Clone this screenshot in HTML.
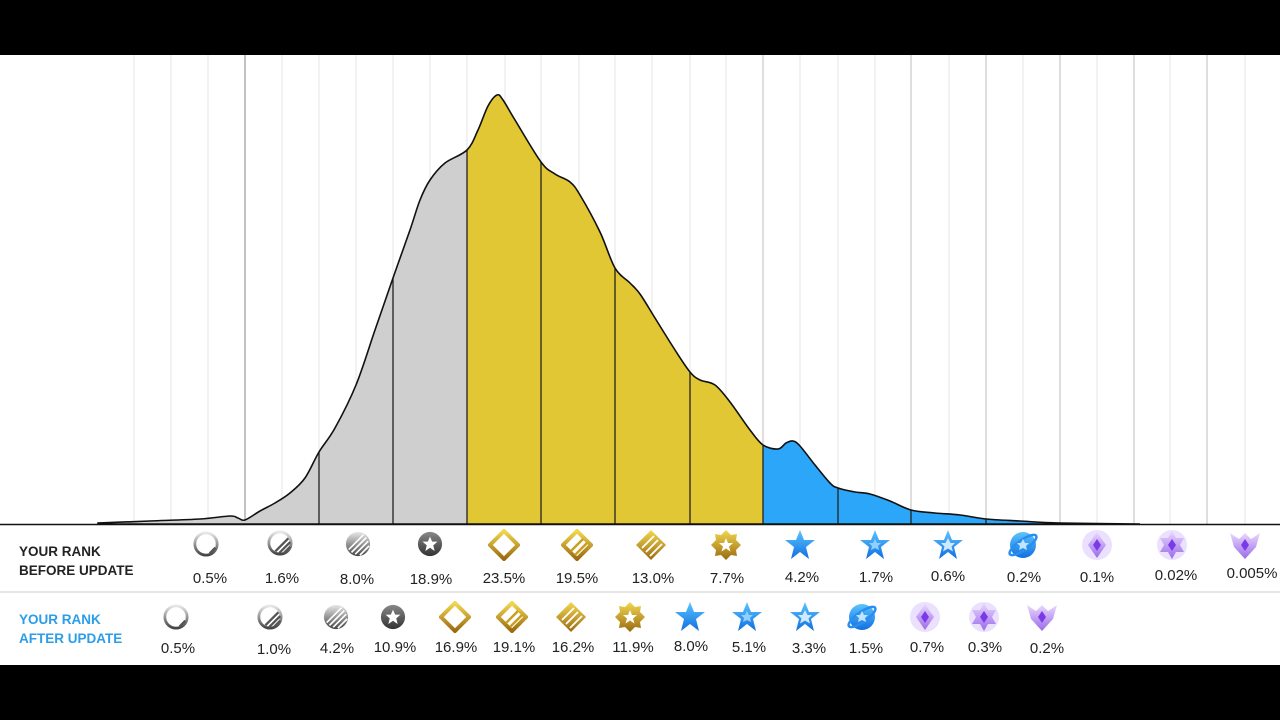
<!DOCTYPE html>
<html><head><meta charset="utf-8"><style>
html,body{margin:0;padding:0;width:1280px;height:720px;overflow:hidden;background:#000}
svg{display:block}
text{font-family:"Liberation Sans",sans-serif}
</style></head><body>
<svg width="1280" height="720" viewBox="0 0 1280 720" xmlns="http://www.w3.org/2000/svg">
<defs>
<linearGradient id="sg" x1="0" y1="0" x2="0" y2="1"><stop offset="0" stop-color="#e8e8e8"/><stop offset="1" stop-color="#444"/></linearGradient>
<linearGradient id="sd" x1="0" y1="0" x2="0" y2="1"><stop offset="0" stop-color="#888"/><stop offset="1" stop-color="#333"/></linearGradient>
<linearGradient id="gg" x1="0" y1="0" x2="0" y2="1"><stop offset="0" stop-color="#f2d850"/><stop offset="1" stop-color="#9a6a10"/></linearGradient>
<linearGradient id="bg" x1="0" y1="0" x2="0" y2="1"><stop offset="0" stop-color="#5cc4ff"/><stop offset="1" stop-color="#1070e0"/></linearGradient>
<linearGradient id="pg" x1="0" y1="0" x2="0" y2="1"><stop offset="0" stop-color="#e8d8ff"/><stop offset="1" stop-color="#9a6ae8"/></linearGradient>
<symbol id="s1" viewBox="-14 -14 28 28"><circle r="12" fill="#fff" stroke="url(#sg)" stroke-width="3"/><path d="M4 10 L10 4" stroke="#555" stroke-width="2.5"/></symbol>
<symbol id="s2" viewBox="-14 -14 28 28"><circle r="12" fill="#fff" stroke="url(#sg)" stroke-width="3"/><path d="M-1 11 L11 -1 M4 11 L11 4 M-5 9 L9 -5" stroke="#555" stroke-width="2.5"/></symbol>
<symbol id="s3" viewBox="-14 -14 28 28"><circle r="13" fill="url(#sg)"/><path d="M-10 6 L6 -10 M-7 9 L9 -7 M-3 11 L11 -3 M2 12 L12 2" stroke="#fff" stroke-width="1.8"/></symbol>
<symbol id="s4" viewBox="-14 -14 28 28"><circle r="13" fill="url(#sd)"/><polygon points="0,-8 2.3,-2.5 8,-2.5 3.5,1.5 5,7.5 0,4 -5,7.5 -3.5,1.5 -8,-2.5 -2.3,-2.5" fill="#fff"/></symbol>
<symbol id="g1" viewBox="-16 -16 32 32"><polygon points="0,-14 14,0 0,14 -14,0" fill="none" stroke="url(#gg)" stroke-width="4"/></symbol>
<symbol id="g2" viewBox="-16 -16 32 32"><polygon points="0,-14 14,0 0,14 -14,0" fill="#fff" stroke="url(#gg)" stroke-width="4"/><path d="M-2 10 L10 -2 M-6 6 L6 -6" stroke="#c9a020" stroke-width="2.5"/></symbol>
<symbol id="g3" viewBox="-16 -16 32 32"><polygon points="0,-15 15,0 0,15 -15,0" fill="url(#gg)"/><path d="M-9 3 L3 -9 M-5 7 L7 -5 M-1 11 L11 -1" stroke="#fff" stroke-width="1.8"/></symbol>
<symbol id="g4" viewBox="-16 -16 32 32"><polygon points="0,-15 5,-10 11,-11 10,-5 15,0 10,5 11,11 5,10 0,15 -5,10 -11,11 -10,5 -15,0 -10,-5 -11,-11 -5,-10" fill="url(#gg)"/><polygon points="0,-7 2,-2 7,-2 3,1.5 4.5,6.5 0,3.5 -4.5,6.5 -3,1.5 -7,-2 -2,-2" fill="#fff"/></symbol>
<symbol id="b1" viewBox="-16 -16 32 32"><polygon points="0,-15 4,-5 15,-5 6,2 9,14 0,7 -9,14 -6,2 -15,-5 -4,-5" fill="url(#bg)"/></symbol>
<symbol id="b2" viewBox="-16 -16 32 32"><polygon points="0,-15 4,-5 15,-5 6,2 9,14 0,7 -9,14 -6,2 -15,-5 -4,-5" fill="url(#bg)"/><polygon points="0,-6 2,-2 6,-2 3,1 4,5 0,3 -4,5 -3,1 -6,-2 -2,-2" fill="#8fd0ff"/></symbol>
<symbol id="b3" viewBox="-16 -16 32 32"><polygon points="0,-15 4,-5 15,-5 6,2 9,14 0,7 -9,14 -6,2 -15,-5 -4,-5" fill="url(#bg)"/><polygon points="0,-7 2.5,-2 7,-2 3.5,1.5 5,6.5 0,3.5 -5,6.5 -3.5,1.5 -7,-2 -2.5,-2" fill="#cfeaff"/></symbol>
<symbol id="b4" viewBox="-16 -16 32 32"><circle r="13" fill="url(#bg)"/><ellipse rx="16" ry="5" transform="rotate(-35)" fill="none" stroke="#2a8ef0" stroke-width="2.5"/><polygon points="0,-6 2,-2 6,-2 3,1 4,5 0,3 -4,5 -3,1 -6,-2 -2,-2" fill="#bfe4ff"/></symbol>
<symbol id="p1" viewBox="-16 -16 32 32"><circle r="15" fill="#d8c4ff" opacity=".5"/><polygon points="0,-13 9,0 0,13 -9,0" fill="url(#pg)"/><polygon points="0,-6 4,0 0,6 -4,0" fill="#7a3ae8"/></symbol>
<symbol id="p2" viewBox="-16 -16 32 32"><circle r="15" fill="#d8c4ff" opacity=".5"/><polygon points="0,-14 4,-7 12,-7 8,0 12,7 4,7 0,14 -4,7 -12,7 -8,0 -12,-7 -4,-7" fill="url(#pg)"/><polygon points="0,-6 4,0 0,6 -4,0" fill="#7a3ae8"/></symbol>
<symbol id="p3" viewBox="-16 -16 32 32"><polygon points="-15,-12 -6,-6 0,-12 6,-6 15,-12 11,2 0,14 -11,2" fill="url(#pg)"/><polygon points="0,-6 4,0 0,6 -4,0" fill="#7a3ae8"/></symbol>
<clipPath id="cc"><path id="cp" d="M98,524 L98,523 L150,521 L200,519 L230,516 L238,518 L245,520 L260,511 L275,503 L290,493 L305,478 L319,452 L335,428 L356,385 L375,330 L393,278 L410,230 L420,200 L430,180 L445,163 L467,150 L478,130 L488,106 L497,95 L503,100 L515,120 L541,162 L555,174 L570,182 L580,195 L600,232 L615,268 L630,283 L640,294 L655,318 L675,350 L690,372 L700,380 L715,385 L730,402 L750,430 L763,445 L778,449 L786,443 L793,441 L800,446 L815,465 L830,483 L838,488 L855,492 L870,494 L890,501 L911,510 L935,513 L960,515 L986,519 L1020,521 L1060,523 L1140,524 Z"/></clipPath>
</defs>
<rect x="0" y="55" width="1280" height="610" fill="#fff"/>
<g stroke="#e4e4e4" stroke-width="1">
<line x1="134" y1="55" x2="134" y2="524"/><line x1="171" y1="55" x2="171" y2="524"/><line x1="208" y1="55" x2="208" y2="524"/>
<line x1="282" y1="55" x2="282" y2="524"/><line x1="319" y1="55" x2="319" y2="524"/><line x1="356" y1="55" x2="356" y2="524"/><line x1="393" y1="55" x2="393" y2="524"/><line x1="430" y1="55" x2="430" y2="524"/><line x1="467" y1="55" x2="467" y2="524"/><line x1="505" y1="55" x2="505" y2="524"/><line x1="541" y1="55" x2="541" y2="524"/><line x1="579" y1="55" x2="579" y2="524"/><line x1="615" y1="55" x2="615" y2="524"/><line x1="652" y1="55" x2="652" y2="524"/><line x1="690" y1="55" x2="690" y2="524"/><line x1="726" y1="55" x2="726" y2="524"/><line x1="800" y1="55" x2="800" y2="524"/><line x1="838" y1="55" x2="838" y2="524"/><line x1="875" y1="55" x2="875" y2="524"/><line x1="949" y1="55" x2="949" y2="524"/><line x1="1023" y1="55" x2="1023" y2="524"/><line x1="1097" y1="55" x2="1097" y2="524"/><line x1="1170" y1="55" x2="1170" y2="524"/><line x1="1245" y1="55" x2="1245" y2="524"/>
</g>
<g stroke="#c8c8c8" stroke-width="1.2">
<line x1="763" y1="55" x2="763" y2="524"/><line x1="911" y1="55" x2="911" y2="524"/><line x1="986" y1="55" x2="986" y2="524"/><line x1="1060" y1="55" x2="1060" y2="524"/><line x1="1134" y1="55" x2="1134" y2="524"/><line x1="1207" y1="55" x2="1207" y2="524"/>
</g>
<line x1="245" y1="55" x2="245" y2="524" stroke="#999" stroke-width="1.2"/>
<g clip-path="url(#cc)">
<rect x="90" y="55" width="377" height="470" fill="#cfcfcf"/>
<rect x="467" y="55" width="296" height="470" fill="#e2c734"/>
<rect x="763" y="55" width="400" height="470" fill="#2ba6f9"/>
<g stroke="#222" stroke-width="1.3">
<line x1="319" y1="55" x2="319" y2="524"/><line x1="393" y1="55" x2="393" y2="524"/><line x1="467" y1="55" x2="467" y2="524"/><line x1="541" y1="55" x2="541" y2="524"/><line x1="615" y1="55" x2="615" y2="524"/><line x1="690" y1="55" x2="690" y2="524"/><line x1="763" y1="55" x2="763" y2="524"/><line x1="838" y1="55" x2="838" y2="524"/><line x1="911" y1="55" x2="911" y2="524"/><line x1="986" y1="55" x2="986" y2="524"/>
</g>
</g>
<use href="#cp" fill="none" stroke="#111" stroke-width="1.6"/>
<line x1="0" y1="524.5" x2="1280" y2="524.5" stroke="#111" stroke-width="1.5"/>
<line x1="0" y1="592" x2="1280" y2="592" stroke="#ddd" stroke-width="1.5"/>
<g font-weight="bold" font-size="13.5" fill="#222">
<text x="19" y="556">YOUR RANK</text><text x="19" y="575">BEFORE UPDATE</text>
</g>
<g font-weight="bold" font-size="13.5" fill="#2a9ee8">
<text x="19" y="624">YOUR RANK</text><text x="19" y="643">AFTER UPDATE</text>
</g>
<g>
<use href="#s1" x="193" y="531" width="26" height="26"/>
<use href="#s2" x="267" y="530" width="26" height="26"/>
<use href="#s3" x="345" y="531" width="26" height="26"/>
<use href="#s4" x="417" y="531" width="26" height="26"/>
<use href="#g1" x="488" y="529" width="32" height="32"/>
<use href="#g2" x="561" y="529" width="32" height="32"/>
<use href="#g3" x="635" y="529" width="32" height="32"/>
<use href="#g4" x="710" y="529" width="32" height="32"/>
<use href="#b1" x="784" y="529" width="32" height="32"/>
<use href="#b2" x="859" y="529" width="32" height="32"/>
<use href="#b3" x="932" y="529" width="32" height="32"/>
<use href="#b4" x="1007" y="529" width="32" height="32"/>
<use href="#p1" x="1081" y="529" width="32" height="32"/>
<use href="#p2" x="1156" y="529" width="32" height="32"/>
<use href="#p3" x="1229" y="529" width="32" height="32"/>

<use href="#s1" x="163" y="604" width="26" height="26"/>
<use href="#s2" x="257" y="604" width="26" height="26"/>
<use href="#s3" x="323" y="604" width="26" height="26"/>
<use href="#s4" x="380" y="604" width="26" height="26"/>
<use href="#g1" x="439" y="601" width="32" height="32"/>
<use href="#g2" x="496" y="601" width="32" height="32"/>
<use href="#g3" x="555" y="601" width="32" height="32"/>
<use href="#g4" x="614" y="601" width="32" height="32"/>
<use href="#b1" x="674" y="601" width="32" height="32"/>
<use href="#b2" x="731" y="601" width="32" height="32"/>
<use href="#b3" x="789" y="601" width="32" height="32"/>
<use href="#b4" x="846" y="601" width="32" height="32"/>
<use href="#p1" x="909" y="601" width="32" height="32"/>
<use href="#p2" x="968" y="601" width="32" height="32"/>
<use href="#p3" x="1026" y="601" width="32" height="32"/>
</g>
<g font-size="15" fill="#222" text-anchor="middle">
<text x="210" y="583">0.5%</text><text x="282" y="583">1.6%</text><text x="357" y="584">8.0%</text><text x="431" y="584">18.9%</text><text x="504" y="583">23.5%</text><text x="577" y="583">19.5%</text><text x="653" y="583">13.0%</text><text x="727" y="583">7.7%</text><text x="802" y="582">4.2%</text><text x="876" y="582">1.7%</text><text x="948" y="581">0.6%</text><text x="1024" y="582">0.2%</text><text x="1097" y="582">0.1%</text><text x="1176" y="580">0.02%</text><text x="1252" y="578">0.005%</text>
<text x="178" y="653">0.5%</text><text x="274" y="654">1.0%</text><text x="337" y="653">4.2%</text><text x="395" y="652">10.9%</text><text x="456" y="652">16.9%</text><text x="514" y="652">19.1%</text><text x="573" y="652">16.2%</text><text x="633" y="652">11.9%</text><text x="691" y="651">8.0%</text><text x="749" y="652">5.1%</text><text x="809" y="653">3.3%</text><text x="866" y="653">1.5%</text><text x="927" y="652">0.7%</text><text x="985" y="652">0.3%</text><text x="1047" y="653">0.2%</text>
</g>
</svg>
<script>
(function(){
var p=document.getElementById('cp');
var nums=p.getAttribute('d').match(/-?\d+(\.\d+)?/g).map(Number);
var pts=[];for(var i=2;i<nums.length;i+=2)pts.push([nums[i],nums[i+1]]);
var d='M98,524 L'+pts[0][0]+','+pts[0][1];
for(var i=0;i<pts.length-1;i++){
var p0=pts[Math.max(0,i-1)],p1=pts[i],p2=pts[i+1],p3=pts[Math.min(pts.length-1,i+2)];
var c1x=p1[0]+(p2[0]-p0[0])/6,c1y=p1[1]+(p2[1]-p0[1])/6;
var c2x=p2[0]-(p3[0]-p1[0])/6,c2y=p2[1]-(p3[1]-p1[1])/6;
d+=' C'+c1x.toFixed(2)+','+c1y.toFixed(2)+' '+c2x.toFixed(2)+','+c2y.toFixed(2)+' '+p2[0]+','+p2[1];
}
d+=' Z';p.setAttribute('d',d);
})();
</script>
</body></html>
